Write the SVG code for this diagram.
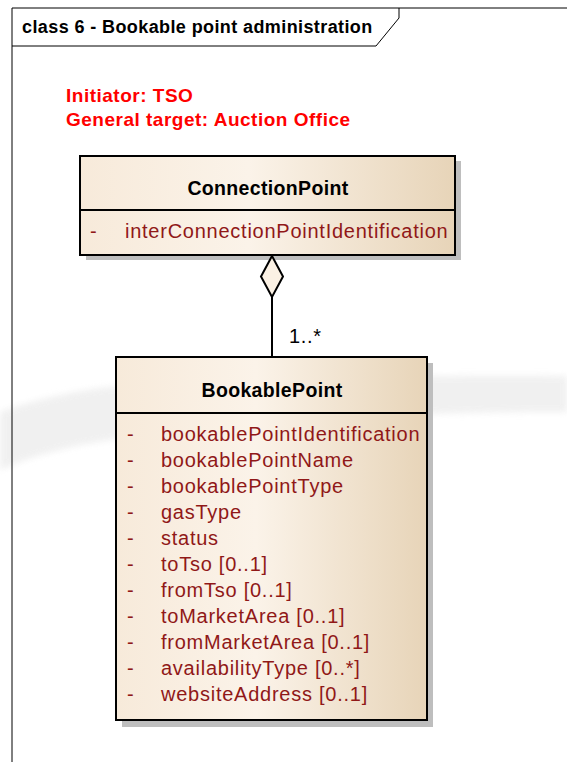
<svg xmlns="http://www.w3.org/2000/svg" width="567" height="762" viewBox="0 0 567 762">
<defs>
<linearGradient id="fill" x1="0" y1="0" x2="1" y2="0">
<stop offset="0" stop-color="#F7EADA"/>
<stop offset="0.45" stop-color="#FBF3E9"/>
<stop offset="1" stop-color="#E7D4B8"/>
</linearGradient>
<filter id="blur" x="-10%" y="-50%" width="120%" height="200%">
<feGaussianBlur stdDeviation="3"/>
</filter>
<style>
.frame{fill:none;stroke:#000;stroke-width:1}
.box{fill:url(#fill);stroke:#000;stroke-width:2}
.shadow{fill:#BEBEBE}
.div{stroke:#000;stroke-width:2}
.ttl{font-family:"Liberation Sans",Arial,sans-serif;font-weight:bold;font-size:18px;letter-spacing:0.4px;fill:#000}
.note{font-family:"Liberation Sans",Arial,sans-serif;font-weight:bold;font-size:19px;letter-spacing:0.5px;fill:#FF0000}
.cls{font-family:"Liberation Sans",Arial,sans-serif;font-weight:bold;font-size:19.5px;letter-spacing:0.35px;fill:#000;text-anchor:middle}
.attr{font-family:"Liberation Sans",Arial,sans-serif;font-size:20px;letter-spacing:0.75px;fill:#901818}
.lbl{font-family:"Liberation Sans",Arial,sans-serif;font-size:20px;letter-spacing:0.7px;fill:#000}
.conn{fill:none;stroke:#000;stroke-width:2}
.diamond{fill:#FBF1E4;stroke:#000;stroke-width:2}
</style>
</defs>
<rect width="567" height="762" fill="#fff"/>
<path d="M0,412 C40,398 80,390 110,387 C250,378 400,375 567,376 L567,412 C400,412 250,420 110,440 C70,446 35,455 0,470 Z" fill="#EDEDED" filter="url(#blur)" opacity="0.8"/>
<g id="frame">
<path class="frame" d="M12,762 V8 H567"/>
<path class="frame" d="M12,46 H376 L399,18 V8"/>
<text class="ttl" x="22" y="33">class 6 - Bookable point administration</text>
</g>
<g id="note">
<text class="note" x="66" y="102">Initiator: TSO</text>
<text class="note" x="66" y="126">General target: Auction Office</text>
</g>
<g id="ConnectionPoint">
<rect class="shadow" x="86" y="161" width="375" height="99"/>
<rect class="box" x="80" y="156" width="375" height="99"/>
<line class="div" x1="80" y1="210" x2="455" y2="210"/>
<text class="cls" x="268" y="195">ConnectionPoint</text>
<text class="attr" x="90" y="238">-</text>
<text class="attr" x="125" y="238">interConnectionPointIdentification</text>
</g>
<g id="BookablePoint">
<rect class="shadow" x="122" y="363" width="311" height="364"/>
<rect class="box" x="116" y="357" width="311" height="363"/>
<line class="div" x1="116" y1="413" x2="427" y2="413"/>
<text class="cls" x="272" y="397">BookablePoint</text>
<g class="attr">
<text x="127" y="441">-</text><text x="161" y="441">bookablePointIdentification</text>
<text x="127" y="467">-</text><text x="161" y="467">bookablePointName</text>
<text x="127" y="493">-</text><text x="161" y="493">bookablePointType</text>
<text x="127" y="519">-</text><text x="161" y="519">gasType</text>
<text x="127" y="545">-</text><text x="161" y="545">status</text>
<text x="127" y="571">-</text><text x="161" y="571">toTso [0..1]</text>
<text x="127" y="597">-</text><text x="161" y="597">fromTso [0..1]</text>
<text x="127" y="623">-</text><text x="161" y="623">toMarketArea [0..1]</text>
<text x="127" y="649">-</text><text x="161" y="649">fromMarketArea [0..1]</text>
<text x="127" y="675">-</text><text x="161" y="675">availabilityType [0..*]</text>
<text x="127" y="701">-</text><text x="161" y="701">websiteAddress [0..1]</text>
</g>
</g>
<g id="connectors">
<line class="conn" x1="272" y1="297" x2="272" y2="357"/>
<path class="diamond" d="M272,256 L261,276.5 L272,297 L283,276.5 Z"/>
<text class="lbl" x="289" y="343">1..*</text>
</g>
</svg>
